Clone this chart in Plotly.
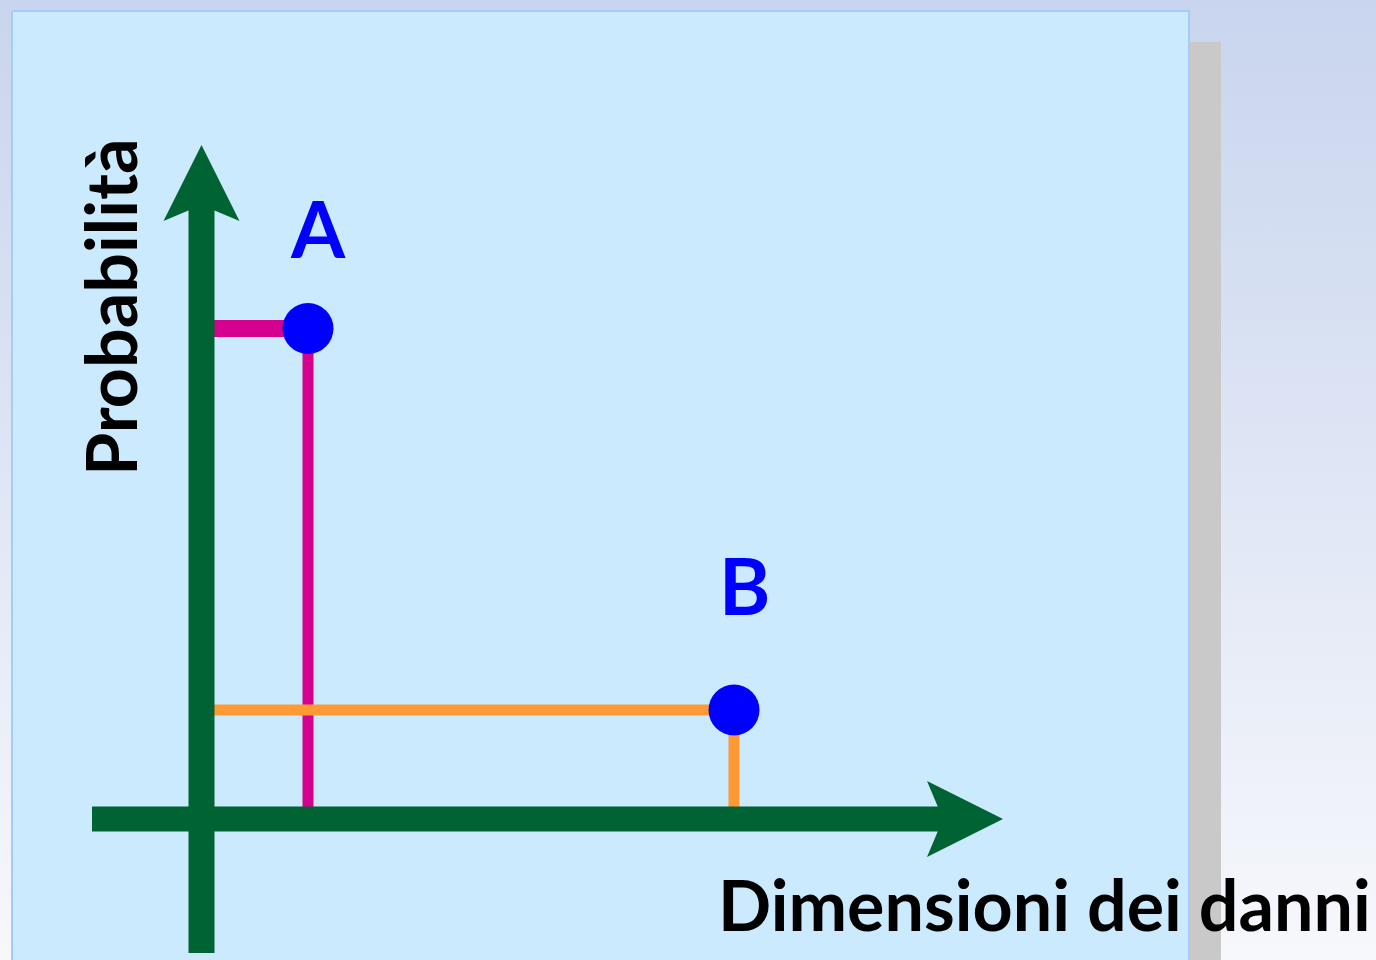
import plotly.graph_objects as go

# points of the diagram (arbitrary units: damage size vs probability)
labels = ["A", "B"]
damage = [1.0, 5.0]
probability = [0.9, 0.2]
guide_colors = ["#d5008f", "#ff9933"]

x_title = "Dimensioni dei danni"
y_title = "Probabilità"

W, H = 1376, 960
X_RANGE = [-1.892, 11.028]
Y_RANGE = [-0.2587, 1.5028]
GREEN = "#006333"
FONT = "Lato"


def px_x(px):
    return X_RANGE[0] + px / W * (X_RANGE[1] - X_RANGE[0])


def py_y(py):
    return Y_RANGE[1] - py / H * (Y_RANGE[1] - Y_RANGE[0])


def box(x0, y0, x1, y1):
    xs = [px_x(x0), px_x(x1), px_x(x1), px_x(x0), px_x(x0)]
    ys = [py_y(y0), py_y(y0), py_y(y1), py_y(y1), py_y(y0)]
    return xs, ys


fig = go.Figure()

# slide background gradient
xs, ys = box(0, 0, W, H)
fig.add_trace(go.Scatter(
    x=xs, y=ys, mode="none", fill="toself",
    fillgradient=dict(type="vertical",
                      colorscale=[[0, "#f7f8fc"], [0.5, "#dfe6f5"], [1, "#c9d5ee"]]),
))

# grey shadow and light blue panel
xs, ys = box(1190, 42, 1221, H + 5)
fig.add_trace(go.Scatter(x=xs, y=ys, mode="none", fill="toself",
                         fillcolor="#c9c9c9"))
xs, ys = box(12, 11, 1189, H + 5)
fig.add_trace(go.Scatter(x=xs, y=ys, mode="lines", fill="toself",
                         fillcolor="#cbeafd", line=dict(color="#a3cdf7", width=2)))

# guide lines from each point to the axes
for d, p, c, hw in zip(damage, probability, guide_colors, [17, 11]):
    fig.add_trace(go.Scatter(x=[0, d], y=[p, p], mode="lines",
                             line=dict(color=c, width=hw)))
    fig.add_trace(go.Scatter(x=[d, d], y=[p, 0], mode="lines",
                             line=dict(color=c, width=11)))

# axes with arrow heads
kx = (X_RANGE[1] - X_RANGE[0]) / W
ky = (Y_RANGE[1] - Y_RANGE[0]) / H
x_start, x_tip = px_x(92), px_x(1003)
y_start, y_tip = py_y(953), py_y(145)
head_len, notch, half = 76, 60, 38

fig.add_trace(go.Scatter(x=[x_start, x_tip - notch * kx], y=[0, 0], mode="lines",
                         line=dict(color=GREEN, width=25)))
fig.add_trace(go.Scatter(x=[0, 0], y=[y_start, y_tip - notch * ky], mode="lines",
                         line=dict(color=GREEN, width=26)))
fig.add_trace(go.Scatter(
    x=[x_tip, x_tip - head_len * kx, x_tip - notch * kx, x_tip - head_len * kx, x_tip],
    y=[0, half * ky, 0, -half * ky, 0],
    mode="none", fill="toself", fillcolor=GREEN))
fig.add_trace(go.Scatter(
    x=[0, half * kx, 0, -half * kx, 0],
    y=[y_tip, y_tip - head_len * ky, y_tip - notch * ky, y_tip - head_len * ky, y_tip],
    mode="none", fill="toself", fillcolor=GREEN))

# the two points
fig.add_trace(go.Scatter(x=damage, y=probability, mode="markers",
                         marker=dict(size=51, color="#0000ff", line=dict(width=0))))

for lab, d, p, ys_ in zip(labels, damage, probability, [101, 125]):
    fig.add_annotation(x=d, y=p, text=lab, showarrow=False, xshift=10, yshift=ys_,
                       xanchor="center", yanchor="middle",
                       font=dict(family=FONT, size=78, color="#0000ff", weight="bold"))

fig.add_annotation(x=1044 / W, y=1 - 904 / H, xref="paper", yref="paper",
                   text=x_title, showarrow=False, xanchor="center", yanchor="middle",
                   font=dict(family=FONT, size=70, color="black", weight="bold"))
fig.add_annotation(x=110 / W, y=1 - 307 / H, xref="paper", yref="paper",
                   text=y_title, showarrow=False, textangle=-90,
                   xanchor="center", yanchor="middle",
                   font=dict(family=FONT, size=70, color="black", weight="bold"))

fig.update_layout(
    width=W, height=H, margin=dict(l=0, r=0, t=0, b=0, autoexpand=False),
    showlegend=False, paper_bgcolor="white", plot_bgcolor="rgba(0,0,0,0)",
    xaxis=dict(range=X_RANGE, visible=False, fixedrange=True),
    yaxis=dict(range=Y_RANGE, visible=False, fixedrange=True),
)
fig.write_html("out.html", config={"displayModeBar": False},
               post_script="document.body.style.margin='0';")
